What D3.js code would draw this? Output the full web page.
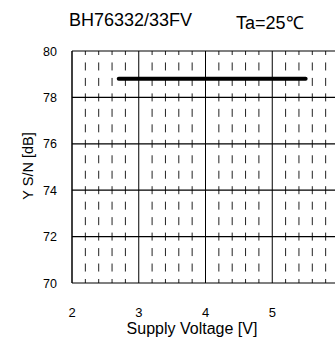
<!DOCTYPE html>
<html>
<head>
<meta charset="utf-8">
<script src="https://cdn.jsdelivr.net/npm/d3@7"></script>
<style>
  body { margin: 0; background: #fff; }
  svg { display: block; font-family: "Liberation Sans", Arial, sans-serif; }
</style>
</head>
<body>
<div id="chart"></div>
<script>
// data
const supplyVoltage = [2.7, 5.5];
const ysn = [78.8, 78.8];
const xTicks = [2, 3, 4, 5];
const yTicks = [70, 72, 74, 76, 78, 80];

const width = 335, height = 341;
const margin = { top: 51, left: 72, bottom: 58 };

const svg = d3.select("#chart").append("svg")
  .attr("width", width)
  .attr("height", height);

const x = d3.scaleLinear().domain([2, 6]).range([margin.left, 339]);
const y = d3.scaleLinear().domain([70, 80]).range([height - margin.bottom, margin.top]);

const plotRight = width;

// minor dashed verticals every 0.2 V
const minorX = d3.range(2.2, 6, 0.2).filter(v => Math.abs(v - Math.round(v)) > 0.01);
const dashY = d3.range(70, 80.01, 2 / 3);
const grid = svg.append("g");

minorX.forEach(v => {
  dashY.forEach(d => {
    const cy = y(d);
    const y1 = Math.max(cy - 4, y(80));
    const y2 = Math.min(cy + 4, y(70));
    grid.append("line")
      .attr("x1", x(v)).attr("x2", x(v))
      .attr("y1", y1).attr("y2", y2)
      .attr("stroke", "#222")
      .attr("stroke-width", 1);
  });
});

// horizontal gridlines
grid.selectAll(".hgrid")
  .data(yTicks)
  .join("line")
  .attr("class", "hgrid")
  .attr("x1", x(2)).attr("x2", plotRight)
  .attr("y1", d => y(d)).attr("y2", d => y(d))
  .attr("stroke", "#000")
  .attr("stroke-width", 1.2);

// major verticals
grid.selectAll(".vgrid")
  .data([3, 4, 5])
  .join("line")
  .attr("class", "vgrid")
  .attr("x1", d => x(d)).attr("x2", d => x(d))
  .attr("y1", y(80)).attr("y2", y(70))
  .attr("stroke", "#000")
  .attr("stroke-width", 1);

// left axis line
svg.append("line")
  .attr("x1", x(2)).attr("x2", x(2))
  .attr("y1", y(80)).attr("y2", y(70))
  .attr("stroke", "#000")
  .attr("stroke-width", 1.5);

// data line
const line = d3.line()
  .x((d, i) => x(supplyVoltage[i]))
  .y(d => y(d));

svg.append("path")
  .datum(ysn)
  .attr("d", line)
  .attr("fill", "none")
  .attr("stroke", "#000")
  .attr("stroke-width", 4)
  .attr("stroke-linecap", "round");

// tick labels
svg.selectAll(".ylab")
  .data(yTicks)
  .join("text")
  .attr("class", "ylab")
  .attr("x", 57)
  .attr("y", d => y(d) + 4.5)
  .attr("text-anchor", "end")
  .attr("font-size", 12.5)
  .text(d => d);

svg.selectAll(".xlab")
  .data(xTicks)
  .join("text")
  .attr("class", "xlab")
  .attr("x", d => x(d))
  .attr("y", 317)
  .attr("text-anchor", "middle")
  .attr("font-size", 13)
  .text(d => d);

// axis titles
svg.append("text")
  .attr("x", 192)
  .attr("y", 334)
  .attr("text-anchor", "middle")
  .attr("font-size", 16)
  .text("Supply Voltage [V]");

svg.append("text")
  .attr("transform", "rotate(-90)")
  .attr("x", -166)
  .attr("y", 33)
  .attr("text-anchor", "middle")
  .attr("font-size", 14.5)
  .text("Y S/N [dB]");

// titles
svg.append("text")
  .attr("x", 69)
  .attr("y", 26)
  .attr("font-size", 18)
  .text("BH76332/33FV");

svg.append("text")
  .attr("x", 236)
  .attr("y", 29)
  .attr("font-size", 18)
  .text("Ta=25℃");
</script>
</body>
</html>
